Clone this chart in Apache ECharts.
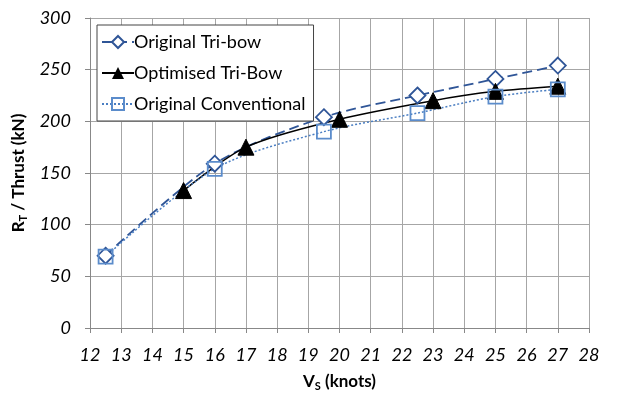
<!DOCTYPE html>
<html><head><meta charset="utf-8">
<script src="https://cdn.jsdelivr.net/npm/echarts@6/dist/echarts.min.js"></script>
<style>html,body{margin:0;padding:0;background:#fff}#c{width:630px;height:394px}</style>
</head><body><div id="c"></div>
<script>
const seriesNames = ['Original Tri-bow', 'Optimised Tri-Bow', 'Original Conventional'];
const triBowX = [12.5, 16, 19.5, 22.5, 25, 27];
const triBowY = [70, 159, 204, 225, 241, 254];
const optX = [15, 17, 20, 23, 25, 27];
const optY = [133, 175, 202, 220, 229, 234];
const convX = [12.5, 16, 19.5, 22.5, 25, 27];
const convY = [69, 154, 190, 208, 224, 231];
const xTicks = [12, 28, 1];
const yTicks = [0, 300, 50];

const zip = (a, b) => a.map((v, i) => [v, b[i]]);
const font = 'Lato, "Open Sans", sans-serif';
const chart = echarts.init(document.getElementById('c'));
const richTitle = {
  a: { fontFamily: font, fontSize: 17, fontWeight: 'bold', color: '#000' },
  b: { fontFamily: font, fontSize: 11, fontWeight: 'bold', color: '#000', verticalAlign: 'bottom', padding: [9, 0, 0, 0] }
};
chart.setOption({
  animation: false,
  grid: { left: 90, right: 41, top: 18, bottom: 66, outerBoundsMode: 'none', containLabel: false },
  legend: {
    orient: 'vertical', left: 97, top: 25,
    backgroundColor: '#fff', borderColor: '#444', borderWidth: 1,
    padding: [8, 8, 8, 4], itemGap: 13, itemWidth: 32, itemHeight: 15,
    textStyle: { fontFamily: font, fontSize: 18, color: '#000', padding: [0, 0, 0, -5] },
    data: seriesNames
  },
  xAxis: {
    type: 'value', min: xTicks[0], max: xTicks[1], interval: xTicks[2],
    name: '{a|V}{b|S}{a| (knots)}', nameLocation: 'middle', nameGap: 44,
    nameTextStyle: { rich: richTitle },
    axisLine: { lineStyle: { color: '#888' } },
    axisTick: { show: true, inside: false, length: 5, lineStyle: { color: '#888' } },
    axisLabel: { fontFamily: font, fontSize: 18, fontStyle: 'italic', color: '#000', margin: 18 },
    splitLine: { show: true, lineStyle: { color: '#a6a6a6' } }
  },
  yAxis: {
    type: 'value', min: yTicks[0], max: yTicks[1], interval: yTicks[2],
    name: '{a|R}{b|T}{a| / Thrust (kN)}', nameLocation: 'middle', nameGap: 58, nameRotate: 90,
    nameTextStyle: { rich: richTitle },
    axisLine: { show: true, lineStyle: { color: '#888' } },
    axisTick: { show: true, inside: false, length: 5, lineStyle: { color: '#888' } },
    axisLabel: { fontFamily: font, fontSize: 18, fontStyle: 'italic', color: '#000', margin: 19 },
    splitLine: { show: true, lineStyle: { color: '#a6a6a6' } }
  },
  series: [
    { name: seriesNames[0], type: 'line', data: zip(triBowX, triBowY), smooth: 0.3,
      symbol: 'diamond', symbolSize: 16,
      lineStyle: { color: '#2F5597', width: 1.8, type: [10, 5] },
      itemStyle: { color: '#fff', borderColor: '#2F5597', borderWidth: 1.8 } },
    { name: seriesNames[1], type: 'line', data: zip(optX, optY), smooth: 0.3,
      symbol: 'triangle', symbolSize: 16,
      lineStyle: { color: '#000', width: 1.5 },
      itemStyle: { color: '#000', borderColor: '#000' } },
    { name: seriesNames[2], type: 'line', data: zip(convX, convY), smooth: 0.3,
      symbol: 'rect', symbolSize: 14,
      lineStyle: { color: '#4A7EC2', width: 1.5, type: [2, 2] },
      itemStyle: { color: 'rgba(255,255,255,0)', borderColor: '#5B8CCB', borderWidth: 1.8 } }
  ]
});
</script></body></html>
